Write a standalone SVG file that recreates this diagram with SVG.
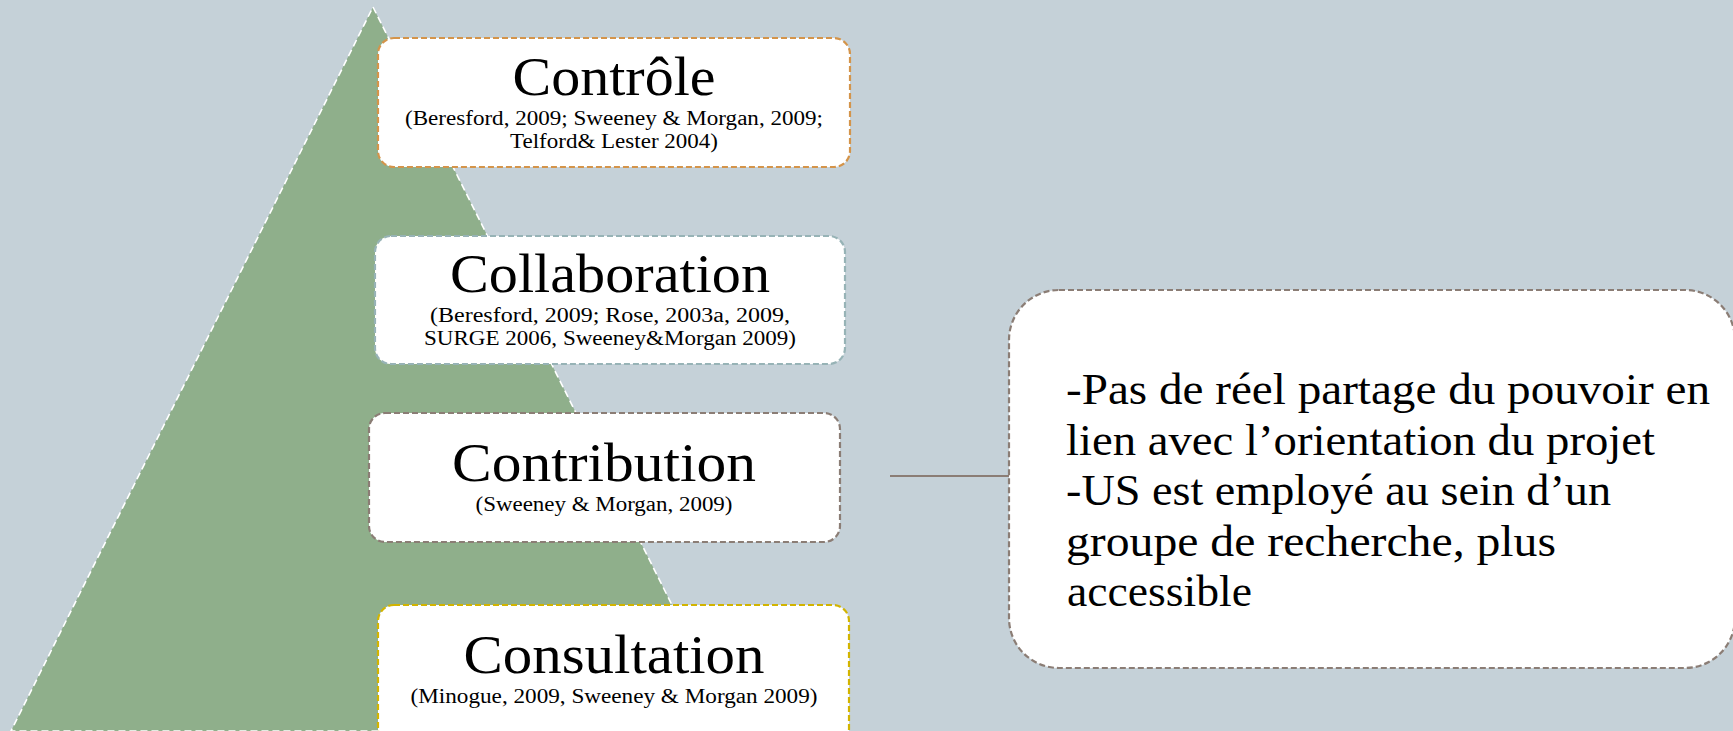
<svg xmlns="http://www.w3.org/2000/svg" width="1733" height="731" viewBox="0 0 1733 731">
<style>
.box{fill:#ffffff;stroke-width:2.2;stroke-dasharray:6 3}
.title{font-family:"Liberation Serif","Times New Roman",serif;font-size:54px;fill:#000;text-anchor:middle}
.cite{font-family:"Liberation Serif","Times New Roman",serif;font-size:20px;fill:#000;text-anchor:middle}
.body{font-family:"Liberation Serif","Times New Roman",serif;font-size:44px;fill:#000}
</style>
<rect x="0" y="0" width="1733" height="731" fill="#c5d1d8"/>
<g id="pyramid">
<polygon points="373,7 735,731 11,731" fill="#8faf8b" stroke="#ffffff" stroke-width="1.6" stroke-dasharray="7 4"/>
</g>
<g id="connectors">
<line x1="890" y1="476" x2="1009" y2="476" stroke="#8b7d75" stroke-width="2"/>
</g>
<g id="controle">
<rect class="box" x="378" y="38" width="472" height="129" rx="16" stroke="#d4944a"/>
<text class="title" x="614" y="95" textLength="203" lengthAdjust="spacingAndGlyphs">Contrôle</text>
<text class="cite" x="614" y="125" textLength="418" lengthAdjust="spacingAndGlyphs">(Beresford, 2009; Sweeney &amp; Morgan, 2009;</text>
<text class="cite" x="614" y="148" textLength="208" lengthAdjust="spacingAndGlyphs">Telford&amp; Lester 2004)</text>
</g>
<g id="collaboration">
<rect class="box" x="375" y="236" width="470" height="128" rx="16" stroke="#97b3b6"/>
<text class="title" x="610" y="292" textLength="320" lengthAdjust="spacingAndGlyphs">Collaboration</text>
<text class="cite" x="610" y="322" textLength="360" lengthAdjust="spacingAndGlyphs">(Beresford, 2009; Rose, 2003a,  2009,</text>
<text class="cite" x="610" y="344.5" textLength="372" lengthAdjust="spacingAndGlyphs">SURGE 2006, Sweeney&amp;Morgan 2009)</text>
</g>
<g id="contribution">
<rect class="box" x="369" y="413" width="471" height="129" rx="16" stroke="#8b7d75"/>
<text class="title" x="604" y="481" textLength="304" lengthAdjust="spacingAndGlyphs">Contribution</text>
<text class="cite" x="604" y="511" textLength="257" lengthAdjust="spacingAndGlyphs">(Sweeney &amp; Morgan, 2009)</text>
</g>
<g id="consultation">
<rect class="box" x="378" y="605" width="471" height="140" rx="16" stroke="#d2b400"/>
<text class="title" x="614" y="673" textLength="301" lengthAdjust="spacingAndGlyphs">Consultation</text>
<text class="cite" x="614" y="703" textLength="407" lengthAdjust="spacingAndGlyphs">(Minogue, 2009, Sweeney &amp; Morgan 2009)</text>
</g>
<g id="note">
<rect class="box" x="1009" y="290" width="726" height="378" rx="50" stroke="#8b7d75"/>
<text class="body" x="1066" y="404" textLength="644" lengthAdjust="spacingAndGlyphs">-Pas de réel partage du pouvoir en</text>
<text class="body" x="1066" y="455" textLength="589" lengthAdjust="spacingAndGlyphs">lien avec l’orientation du projet</text>
<text class="body" x="1066" y="505" textLength="545" lengthAdjust="spacingAndGlyphs">-US est employé au sein d’un</text>
<text class="body" x="1066" y="556" textLength="490" lengthAdjust="spacingAndGlyphs">groupe de recherche, plus</text>
<text class="body" x="1067" y="606" textLength="185" lengthAdjust="spacingAndGlyphs">accessible</text>
</g>
</svg>
